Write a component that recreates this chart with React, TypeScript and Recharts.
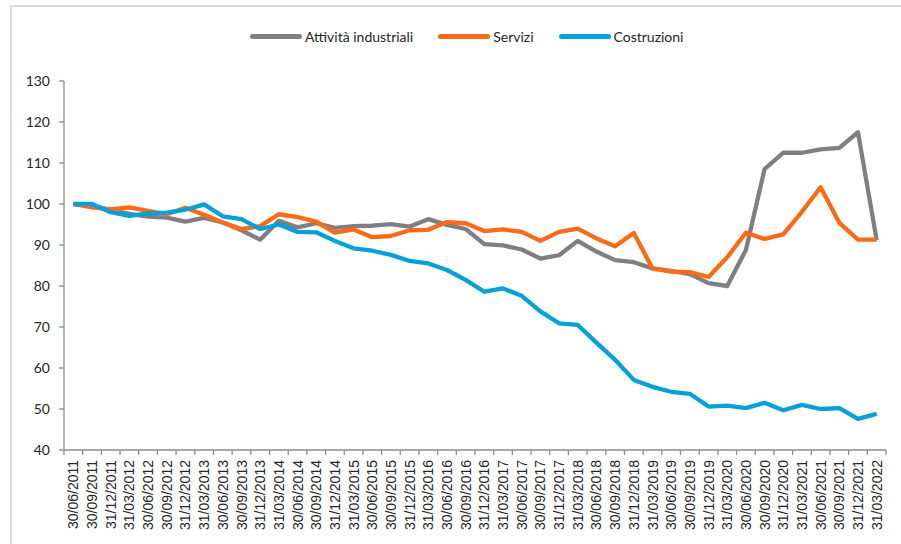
import React from "react";
import { LineChart, Line, XAxis, YAxis } from "recharts";

const dates = [
  "30/06/2011", "30/09/2011", "31/12/2011",
  "31/03/2012", "30/06/2012", "30/09/2012", "31/12/2012",
  "31/03/2013", "30/06/2013", "30/09/2013", "31/12/2013",
  "31/03/2014", "30/06/2014", "30/09/2014", "31/12/2014",
  "31/03/2015", "30/06/2015", "30/09/2015", "31/12/2015",
  "31/03/2016", "30/06/2016", "30/09/2016", "31/12/2016",
  "31/03/2017", "30/06/2017", "30/09/2017", "31/12/2017",
  "31/03/2018", "30/06/2018", "30/09/2018", "31/12/2018",
  "31/03/2019", "30/06/2019", "30/09/2019", "31/12/2019",
  "31/03/2020", "30/06/2020", "30/09/2020", "31/12/2020",
  "31/03/2021", "30/06/2021", "30/09/2021", "31/12/2021",
  "31/03/2022",
];

const industriali = [
  100, 99.6, 98.5, 97.6, 96.9, 96.7, 95.7, 96.6, 95.5, 93.6, 91.3,
  95.9, 94.3, 95.3, 94.2, 94.6, 94.7, 95.1, 94.5, 96.3, 94.9, 93.9,
  90.2, 89.9, 88.9, 86.7, 87.5, 91.0, 88.4, 86.3, 85.8, 84.3, 83.7,
  82.9, 80.7, 80.0, 88.8, 108.5, 112.5, 112.5, 113.3, 113.7, 117.5, 91.2,
];

const servizi = [
  100, 99.2, 98.7, 99.2, 98.3, 97.5, 99.1, 97.4, 95.5, 93.9, 94.6,
  97.5, 96.8, 95.7, 93.0, 93.8, 91.9, 92.2, 93.6, 93.7, 95.6, 95.3,
  93.4, 93.8, 93.2, 91.0, 93.2, 94.0, 91.6, 89.7, 92.9, 84.3, 83.5,
  83.4, 82.2, 87.0, 93.0, 91.5, 92.6, 98.1, 104.1, 95.4, 91.3, 91.3,
];

const costruzioni = [
  100, 100, 98.0, 97.1, 97.7, 97.9, 98.6, 99.9, 97.0, 96.3, 93.9,
  95.0, 93.2, 93.1, 91.0, 89.2, 88.6, 87.6, 86.1, 85.5, 83.9, 81.5,
  78.6, 79.4, 77.6, 73.8, 70.9, 70.5, 66.2, 62.0, 57.1, 55.4, 54.2,
  53.7, 50.6, 50.8, 50.2, 51.5, 49.7, 51.0, 50.0, 50.2, 47.6, 48.8,
];

const yTicks = [40, 50, 60, 70, 80, 90, 100, 110, 120, 130];

const series = [
  { key: "industriali", name: "Attività industriali", color: "#7f7f82", values: industriali },
  { key: "servizi", name: "Servizi", color: "#fd6a16", values: servizi },
  { key: "costruzioni", name: "Costruzioni", color: "#06a1db", values: costruzioni },
];

const data = dates.map((d, i) => {
  const row: Record<string, string | number> = { date: d };
  series.forEach((s) => {
    row[s.key] = s.values[i];
  });
  return row;
});

const CHART_W = 901;
const CHART_H = 544;
const MARGIN = { top: 81, right: 15, bottom: 14, left: 0 };
const Y_AXIS_W = 64;
const plotWidth = CHART_W - MARGIN.left - MARGIN.right - Y_AXIS_W;
const halfBand = plotWidth / dates.length / 2;
const axisColor = "#8c8c8c";
const textColor = "#262626";

function XTick(props: any) {
  const { x, y, payload, index, visibleTicksCount } = props;
  const ty = y + 10;
  return (
    <g>
      <line x1={x - halfBand} x2={x - halfBand} y1={y} y2={y + 5} stroke={axisColor} strokeWidth={1.3} />
      {index === visibleTicksCount - 1 && (
        <line x1={x + halfBand} x2={x + halfBand} y1={y} y2={y + 5} stroke={axisColor} strokeWidth={1.3} />
      )}
      <text
        x={x}
        y={ty}
        dy="0.36em"
        transform={`rotate(-90 ${x} ${ty})`}
        textAnchor="end"
        fontSize={14}
        fontFamily="Liberation Sans, Arial, sans-serif"
        fill={textColor}
      >
        {payload.value}
      </text>
    </g>
  );
}

function LegendBox() {
  return (
    <div
      style={{
        position: "absolute",
        left: 250,
        top: 28,
        display: "flex",
        alignItems: "center",
        gap: 25,
        fontFamily: "Lato, sans-serif",
        fontSize: 14,
        color: textColor,
        whiteSpace: "nowrap",
      }}
    >
      {series.map((s) => (
        <div key={s.key} style={{ display: "flex", alignItems: "center" }}>
          <span
            style={{
              display: "inline-block",
              width: 52,
              height: 5,
              borderRadius: 3,
              background: s.color,
              marginRight: 3,
            }}
          />
          <span>{s.name}</span>
        </div>
      ))}
    </div>
  );
}

export default function App() {
  return (
    <div
      style={{
        position: "absolute",
        left: 0,
        top: 0,
        width: CHART_W,
        height: CHART_H,
        overflow: "hidden",
        background: "#fff",
      }}
    >
      <div
        style={{
          position: "absolute",
          left: 10,
          top: 5,
          width: 2000,
          height: 2000,
          borderLeft: "2px solid #dadada",
          borderTop: "2px solid #dadada",
        }}
      />
      <LegendBox />
      <div style={{ position: "absolute", left: 0, top: 0 }}>
        <LineChart width={CHART_W} height={CHART_H} data={data} margin={MARGIN}>
          <YAxis
            width={Y_AXIS_W}
            type="number"
            domain={[40, 130]}
            ticks={yTicks}
            interval={0}
            tickSize={5}
            tickMargin={9}
            axisLine={{ stroke: axisColor, strokeWidth: 1.3 }}
            tickLine={{ stroke: axisColor, strokeWidth: 1.3 }}
            tick={{ fill: textColor, fontSize: 14, fontFamily: "Lato, sans-serif" }}
          />
          <XAxis
            dataKey="date"
            height={80}
            interval={0}
            padding={{ left: halfBand, right: halfBand }}
            tickLine={false}
            tickSize={0}
            tickMargin={0}
            axisLine={{ stroke: axisColor, strokeWidth: 1.3 }}
            tick={<XTick />}
          />
          {series.map((s) => (
            <Line
              key={s.key}
              dataKey={s.key}
              name={s.name}
              stroke={s.color}
              strokeWidth={4.3}
              dot={false}
              activeDot={false}
              strokeLinejoin="round"
              isAnimationActive={false}
            />
          ))}
        </LineChart>
      </div>
    </div>
  );
}
